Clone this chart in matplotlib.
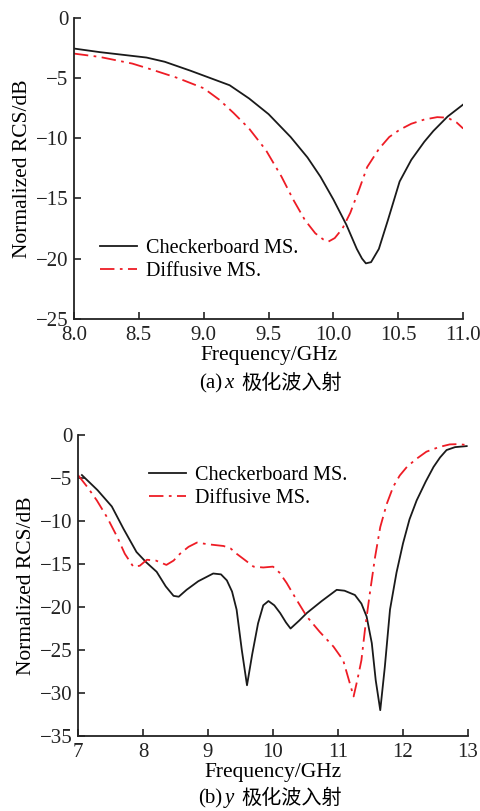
import matplotlib
matplotlib.use("Agg")
from matplotlib import pyplot as plt

plt.rcParams['font.family'] = ['Liberation Serif', 'Noto Sans CJK SC']
plt.rcParams['axes.unicode_minus'] = True

# (a) x-polarised incidence
freq_a = [8.0, 8.2, 8.4, 8.56, 8.7, 8.9, 9.05, 9.2, 9.35, 9.5, 9.67, 9.8, 9.9,
          10.0, 10.1, 10.18, 10.22, 10.25, 10.29, 10.35, 10.42, 10.51, 10.6,
          10.7, 10.77, 10.88, 11.0]
check_a = [-2.55, -2.85, -3.1, -3.3, -3.65, -4.4, -5.0, -5.6, -6.7, -8.0,
           -9.9, -11.6, -13.2, -15.1, -17.2, -19.2, -20.0, -20.4, -20.3, -19.2,
           -16.8, -13.6, -11.8, -10.3, -9.4, -8.2, -7.2]
freq_d = [8.0, 8.2, 8.45, 8.6, 8.8, 9.0, 9.12, 9.23, 9.35, 9.48, 9.6, 9.69,
          9.78, 9.86, 9.92, 9.96, 10.01, 10.07, 10.13, 10.2, 10.26, 10.35,
          10.43, 10.51, 10.6, 10.7, 10.8, 10.88, 10.95, 11.0]
diff_a = [-2.97, -3.25, -3.8, -4.3, -5.0, -5.85, -6.8, -7.9, -9.2, -11.0,
          -13.2, -15.1, -16.8, -17.9, -18.4, -18.6, -18.3, -17.5, -16.2,
          -14.2, -12.4, -10.9, -9.9, -9.3, -8.8, -8.45, -8.25, -8.3, -8.7,
          -9.2]

# (b) y-polarised incidence
freq_b1 = [7.06, 7.3, 7.52, 7.7, 7.9, 8.05, 8.21, 8.35, 8.47, 8.55, 8.67, 8.85,
           9.08, 9.2, 9.29, 9.37, 9.44, 9.52, 9.6, 9.68, 9.77, 9.85, 9.93,
           10.02, 10.11, 10.2, 10.27, 10.4, 10.52, 10.75, 10.98, 11.1, 11.26,
           11.36, 11.44, 11.52, 11.58, 11.65, 11.72, 11.8, 11.9, 12.0, 12.1,
           12.21, 12.35, 12.47, 12.57, 12.67, 12.8, 12.98]
check_b = [-4.65, -6.4, -8.3, -10.9, -13.6, -14.8, -15.9, -17.6, -18.7, -18.8,
           -18.0, -17.0, -16.1, -16.2, -16.9, -18.2, -20.3, -25.0, -29.1,
           -25.5, -21.9, -19.8, -19.3, -19.8, -20.7, -21.8, -22.5, -21.6,
           -20.7, -19.3, -18.0, -18.1, -18.6, -19.6, -21.1, -24.2, -28.5,
           -32.0, -27.0, -20.3, -16.0, -12.6, -9.8, -7.6, -5.4, -3.7, -2.6,
           -1.74, -1.4, -1.28]
freq_b2 = [7.0, 7.15, 7.29, 7.45, 7.6, 7.72, 7.85, 7.95, 8.06, 8.2, 8.36, 8.47,
           8.57, 8.7, 8.83, 9.0, 9.24, 9.35, 9.44, 9.58, 9.7, 9.85, 10.0,
           10.1, 10.21, 10.35, 10.52, 10.72, 10.93, 11.08, 11.16, 11.24, 11.3,
           11.36, 11.42, 11.49, 11.57, 11.65, 11.75, 11.85, 11.95, 12.06,
           12.2, 12.36, 12.55, 12.72, 12.85, 12.98]
diff_b = [-4.65, -6.1, -7.6, -9.6, -11.8, -13.8, -15.3, -15.2, -14.5, -14.6,
          -15.1, -14.6, -13.8, -13.0, -12.5, -12.7, -12.9, -13.2, -13.8,
          -14.6, -15.3, -15.4, -15.3, -16.0, -17.2, -19.0, -21.1, -22.9,
          -24.6, -26.2, -28.3, -30.4, -28.4, -26.2, -22.3, -18.4, -14.2,
          -10.7, -8.0, -6.0, -4.7, -3.7, -2.8, -1.93, -1.4, -1.08, -1.05,
          -1.15]

red = '#ee1c25'
fs = 15

fig = plt.figure(figsize=(4.8, 8.11), dpi=100)


def style_axes(ax):
    for s in ['top', 'right']:
        ax.spines[s].set_visible(False)
    for s in ['left', 'bottom']:
        ax.spines[s].set_linewidth(1.3)
        ax.spines[s].set_color('#222222')
    ax.tick_params(direction='in', length=5, width=1.2, labelsize=fs,
                   colors='#222222')
    ax.tick_params(axis='x', pad=5)
    ax.tick_params(axis='y', pad=4)
    ax.set_ylabel('Normalized RCS/dB', fontsize=15.5, labelpad=3)
    ax.set_xlabel('Frequency/GHz', fontsize=15.5, labelpad=1)


ax1 = fig.add_axes([0.154, 0.607, 0.811, 0.371])
ax1.plot(freq_a, check_a, color='#1a1a1a', lw=1.3, label='Checkerboard MS.')
ax1.plot(freq_d, diff_a, color=red, lw=1.3, dashes=(8, 3, 1.5, 3),
         label='Diffusive MS.')
ax1.set_xlim(8.0, 11.0)
ax1.set_ylim(-25, 0)
ax1.set_xticks([8.0, 8.5, 9.0, 9.5, 10.0, 10.5, 11.0])
ax1.set_xticklabels(['8.0', '8.5', '9.0', '9.5', '10.0', '10.5', '11.0'])
ax1.set_yticks([0, -5, -10, -15, -20, -25])
style_axes(ax1)
ax1.legend(loc='lower left', bbox_to_anchor=(0.02, 0.065), frameon=False,
           fontsize=14.5, handlelength=1.85, handletextpad=0.45,
           labelspacing=0.2)
fig.text(0.462, 0.527, '(a)', fontsize=fs, ha='right', va='center')
fig.text(0.468, 0.527, 'x', fontsize=fs, style='italic', ha='left', va='center')
fig.text(0.502, 0.527, '极化波入射', fontsize=14.5, ha='left', va='center',
         family='Noto Sans CJK SC')

ax2 = fig.add_axes([0.1625, 0.0925, 0.8125, 0.371])
ax2.plot(freq_b1, check_b, color='#1a1a1a', lw=1.3, label='Checkerboard MS.')
ax2.plot(freq_b2, diff_b, color=red, lw=1.3, dashes=(8, 3, 1.5, 3),
         label='Diffusive MS.')
ax2.set_xlim(7, 13)
ax2.set_ylim(-35, 0)
ax2.set_xticks([7, 8, 9, 10, 11, 12, 13])
ax2.set_yticks([0, -5, -10, -15, -20, -25, -30, -35])
style_axes(ax2)
ax2.legend(loc='upper left', bbox_to_anchor=(0.135, 0.957), frameon=False,
           fontsize=14.5, handlelength=1.85, handletextpad=0.45,
           labelspacing=0.2)
fig.text(0.462, 0.015, '(b)', fontsize=fs, ha='right', va='center')
fig.text(0.468, 0.015, 'y', fontsize=fs, style='italic', ha='left', va='center')
fig.text(0.502, 0.015, '极化波入射', fontsize=14.5, ha='left', va='center',
         family='Noto Sans CJK SC')

fig.savefig('out.png', dpi=100)
